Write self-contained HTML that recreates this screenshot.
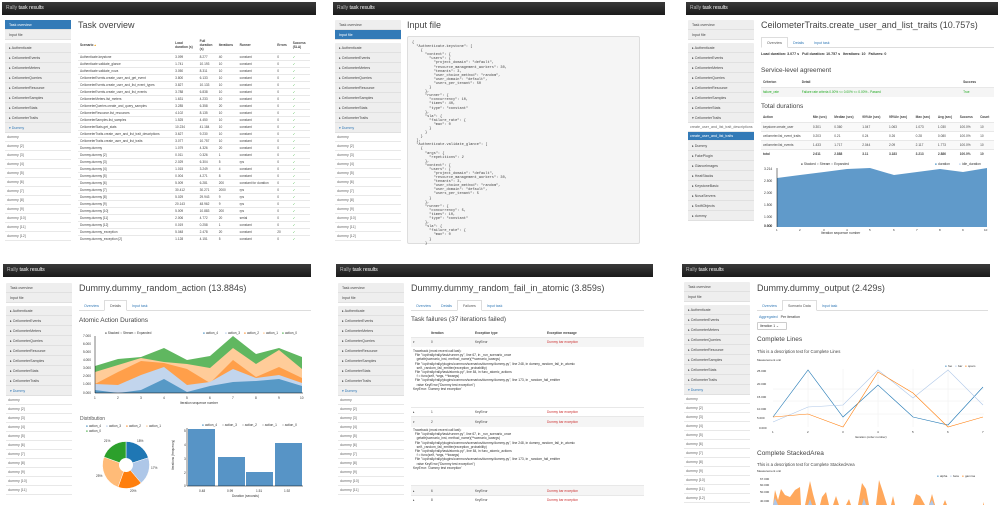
<!DOCTYPE html>
<html><head><meta charset="utf-8"><style>
*{margin:0;padding:0;box-sizing:border-box}
body{width:1000px;height:515px;background:#fff;position:relative;overflow:hidden;font-family:"Liberation Sans",sans-serif;color:#333}
.a{position:absolute}
.hd{position:absolute;height:13px;background:linear-gradient(#3a3a3a,#1a1a1a);color:#bbb;font-size:5px;line-height:13px;padding-left:4px}
.hd b{color:#fff;font-weight:normal}
.sb{position:absolute;width:66px;font-size:3.6px}
.sb .box{background:#eee;border-radius:1px}
.sb .box div{height:10px;line-height:10px;padding-left:4px;border-bottom:1px solid #e0e0e0;color:#444}
.sb .box div.on{background:#337ab7;color:#fff}
.sb .w div{height:9px;line-height:9px;padding-left:2px;border-bottom:1px solid #e8e8e8;color:#666;background:#fff}
.sb .w div.on{background:#337ab7;color:#fff}
.t1{position:absolute;font-size:9px;color:#444;white-space:nowrap}
.t2{position:absolute;font-size:6.5px;color:#444;white-space:nowrap}
.tabs{position:absolute;height:11px;border-bottom:1px solid #ddd;font-size:3.6px;color:#337ab7}
.tabs span{display:inline-block;height:11px;line-height:11px;padding:0 5px}
.tabs span.on{border:1px solid #ddd;border-bottom:1px solid #fff;color:#555;background:#fff}
table{border-collapse:collapse;font-size:3.2px;position:absolute}
td{border-top:1px solid #e8e8e8;height:7px;padding:0 2px;color:#444;white-space:nowrap}
.g{color:#2a2}
pre{position:absolute;font-family:"Liberation Mono",monospace;font-size:3.6px;line-height:4.1px;color:#444;background:#f5f5f5;border:1px solid #ddd;border-radius:2px;padding:4px}
.tb{font-size:3.3px;line-height:4.2px;color:#333;position:absolute;white-space:pre}
.red{color:#c33}
</style></head><body>

<!-- ============ PANEL 1 ============ -->
<div class="hd" style="left:2px;top:2px;width:314px">Rally <b>task results</b></div>
<div class="sb" style="left:5px;top:20px">
 <div class="box"><div class="on">Task overview</div><div>Input file</div></div>
 <div class="box" style="margin-top:3px"><div>▸ Authenticate</div><div>▸ CeilometerEvents</div><div>▸ CeilometerMeters</div><div>▸ CeilometerQueries</div><div>▸ CeilometerResource</div><div>▸ CeilometerSamples</div><div>▸ CeilometerStats</div><div>▸ CeilometerTraits</div><div style="color:#337ab7">▾ Dummy</div></div>
 <div class="w"><div>dummy</div><div>dummy [2]</div><div>dummy [3]</div><div>dummy [4]</div><div>dummy [5]</div><div>dummy [6]</div><div>dummy [7]</div><div>dummy [8]</div><div>dummy [9]</div><div>dummy [10]</div><div>dummy [11]</div><div>dummy [12]</div></div>
</div>
<div class="t1" style="left:78px;top:20px">Task overview</div>
<table style="left:78px;top:38px;width:232px">
<tr style="font-weight:bold"><td style="border:0;height:15px">Scenario <span style="color:#e90">▴</span></td><td style="border:0">Load<br>duration (s)</td><td style="border:0">Full<br>duration<br>(s)</td><td style="border:0">Iterations</td><td style="border:0">Runner</td><td style="border:0">Errors</td><td style="border:0">Success<br>(SLA)</td></tr>
<tr><td>Authenticate.keystone</td><td>3.099</td><td>8.277</td><td>40</td><td>constant</td><td>0</td><td class="g">✓</td></tr>
<tr><td>Authenticate.validate_glance</td><td>1.741</td><td>10.193</td><td>10</td><td>constant</td><td>0</td><td class="g">✓</td></tr>
<tr><td>Authenticate.validate_nova</td><td>3.050</td><td>8.311</td><td>10</td><td>constant</td><td>0</td><td class="g">✓</td></tr>
<tr><td>CeilometerEvents.create_user_and_get_event</td><td>3.800</td><td>6.133</td><td>10</td><td>constant</td><td>0</td><td class="g">✓</td></tr>
<tr><td>CeilometerEvents.create_user_and_list_event_types</td><td>3.827</td><td>10.133</td><td>10</td><td>constant</td><td>0</td><td class="g">✓</td></tr>
<tr><td>CeilometerEvents.create_user_and_list_events</td><td>3.788</td><td>6.838</td><td>10</td><td>constant</td><td>0</td><td class="g">✓</td></tr>
<tr><td>CeilometerMeters.list_meters</td><td>1.631</td><td>4.233</td><td>10</td><td>constant</td><td>0</td><td class="g">✓</td></tr>
<tr><td>CeilometerQueries.create_and_query_samples</td><td>3.285</td><td>6.358</td><td>20</td><td>constant</td><td>0</td><td class="g">✓</td></tr>
<tr><td>CeilometerResource.list_resources</td><td>4.102</td><td>8.135</td><td>10</td><td>constant</td><td>0</td><td class="g">✓</td></tr>
<tr><td>CeilometerSamples.list_samples</td><td>1.525</td><td>4.450</td><td>10</td><td>constant</td><td>0</td><td class="g">✓</td></tr>
<tr><td>CeilometerStats.get_stats</td><td>10.234</td><td>41.184</td><td>10</td><td>constant</td><td>0</td><td class="g">✓</td></tr>
<tr><td>CeilometerTraits.create_user_and_list_trait_descriptions</td><td>3.627</td><td>9.230</td><td>10</td><td>constant</td><td>0</td><td class="g">✓</td></tr>
<tr><td>CeilometerTraits.create_user_and_list_traits</td><td>3.077</td><td>10.757</td><td>10</td><td>constant</td><td>0</td><td class="g">✓</td></tr>
<tr><td>Dummy.dummy</td><td>1.079</td><td>4.326</td><td>20</td><td>constant</td><td>0</td><td class="g">✓</td></tr>
<tr><td>Dummy.dummy [2]</td><td>0.011</td><td>0.326</td><td>1</td><td>constant</td><td>0</td><td class="g">✓</td></tr>
<tr><td>Dummy.dummy [3]</td><td>2.029</td><td>6.304</td><td>5</td><td>rps</td><td>0</td><td class="g">✓</td></tr>
<tr><td>Dummy.dummy [4]</td><td>1.015</td><td>3.249</td><td>4</td><td>constant</td><td>0</td><td class="g">✓</td></tr>
<tr><td>Dummy.dummy [5]</td><td>0.004</td><td>4.271</td><td>8</td><td>constant</td><td>0</td><td class="g">✓</td></tr>
<tr><td>Dummy.dummy [6]</td><td>5.009</td><td>6.281</td><td>200</td><td>constant for duration</td><td>0</td><td class="g">✓</td></tr>
<tr><td>Dummy.dummy [7]</td><td>30.412</td><td>30.271</td><td>2000</td><td>rps</td><td>0</td><td class="g">✓</td></tr>
<tr><td>Dummy.dummy [8]</td><td>5.029</td><td>29.943</td><td>9</td><td>rps</td><td>0</td><td class="g">✓</td></tr>
<tr><td>Dummy.dummy [9]</td><td>20.143</td><td>48.962</td><td>9</td><td>rps</td><td>0</td><td class="g">✓</td></tr>
<tr><td>Dummy.dummy [10]</td><td>5.009</td><td>10.883</td><td>200</td><td>rps</td><td>0</td><td class="g">✓</td></tr>
<tr><td>Dummy.dummy [11]</td><td>2.006</td><td>4.772</td><td>20</td><td>serial</td><td>0</td><td class="g">✓</td></tr>
<tr><td>Dummy.dummy [12]</td><td>0.019</td><td>0.258</td><td>1</td><td>constant</td><td>0</td><td class="g">✓</td></tr>
<tr><td>Dummy.dummy_exception</td><td>5.048</td><td>2.478</td><td>20</td><td>constant</td><td>20</td><td class="g">✓</td></tr>
<tr><td>Dummy.dummy_exception [2]</td><td>1.128</td><td>4.151</td><td>5</td><td>constant</td><td>0</td><td class="g">✓</td></tr>
</table>

<!-- ============ PANEL 2 ============ -->
<div class="hd" style="left:333px;top:2px;width:332px">Rally <b>task results</b></div>
<div class="sb" style="left:335px;top:20px">
 <div class="box"><div>Task overview</div><div class="on">Input file</div></div>
 <div class="box" style="margin-top:3px"><div>▸ Authenticate</div><div>▸ CeilometerEvents</div><div>▸ CeilometerMeters</div><div>▸ CeilometerQueries</div><div>▸ CeilometerResource</div><div>▸ CeilometerSamples</div><div>▸ CeilometerStats</div><div>▸ CeilometerTraits</div><div style="color:#337ab7">▾ Dummy</div></div>
 <div class="w"><div>dummy</div><div>dummy [2]</div><div>dummy [3]</div><div>dummy [4]</div><div>dummy [5]</div><div>dummy [6]</div><div>dummy [7]</div><div>dummy [8]</div><div>dummy [9]</div><div>dummy [10]</div><div>dummy [11]</div><div>dummy [12]</div></div>
</div>
<div class="t1" style="left:407px;top:20px">Input file</div>
<pre style="left:407px;top:36px;width:233px;height:208px">{
  "Authenticate.keystone": [
    {
      "context": {
        "users": {
          "project_domain": "default",
          "resource_management_workers": 30,
          "tenants": 3,
          "user_choice_method": "random",
          "user_domain": "default",
          "users_per_tenant": 50
        }
      },
      "runner": {
        "concurrency": 10,
        "times": 40,
        "type": "constant"
      },
      "sla": {
        "failure_rate": {
          "max": 0
        }
      }
    }
  ],
  "Authenticate.validate_glance": [
    {
      "args": {
        "repetitions": 2
      },
      "context": {
        "users": {
          "project_domain": "default",
          "resource_management_workers": 30,
          "tenants": 3,
          "user_choice_method": "random",
          "user_domain": "default",
          "users_per_tenant": 5
        }
      },
      "runner": {
        "concurrency": 5,
        "times": 10,
        "type": "constant"
      },
      "sla": {
        "failure_rate": {
          "max": 0
        }
      }
</pre>

<!-- ============ PANEL 3 ============ -->
<div class="hd" style="left:686px;top:2px;width:312px">Rally <b>task results</b></div>
<div class="sb" style="left:688px;top:20px">
 <div class="box"><div>Task overview</div><div>Input file</div></div>
 <div class="box" style="margin-top:3px"><div>▸ Authenticate</div><div>▸ CeilometerEvents</div><div>▸ CeilometerMeters</div><div>▸ CeilometerQueries</div><div>▸ CeilometerResource</div><div>▸ CeilometerSamples</div><div>▸ CeilometerStats</div><div>▾ CeilometerTraits</div></div>
 <div class="w"><div>create_user_and_list_trait_descriptions</div><div class="on">create_user_and_list_traits</div></div>
 <div class="box"><div>▸ Dummy</div><div>▸ FakePlugin</div><div>▸ GlanceImages</div><div>▸ HeatStacks</div><div>▸ KeystoneBasic</div><div>▸ NovaServers</div><div>▸ SwiftObjects</div><div>▸ dummy</div></div>
</div>
<div class="t1" style="left:761px;top:20px">CeilometerTraits.create_user_and_list_traits (10.757s)</div>
<div class="tabs" style="left:761px;top:37px;width:233px"><span class="on">Overview</span><span>Details</span><span>Input task</span></div>
<div class="a" style="left:761px;top:52px;font-size:3.6px;font-weight:bold;color:#333">Load duration: 3.077 s &nbsp; Full duration: 10.757 s &nbsp; Iterations: 10 &nbsp; Failures: 0</div>
<div class="t2" style="left:761px;top:67px">Service-level agreement</div>
<table style="left:761px;top:78px;width:233px">
<tr style="font-weight:bold"><td style="border:0;height:9px">Criterion</td><td style="border:0">Detail</td><td style="border:0">Success</td></tr>
<tr style="background:#f5f5f5"><td class="g" style="height:10px">failure_rate</td><td class="g">Failure rate criteria 0.00% &lt;= 0.00% &lt;= 0.00% - Passed</td><td class="g">True</td></tr>
</table>
<div class="t2" style="left:761px;top:103px">Total durations</div>
<table style="left:761px;top:113px;width:233px">
<tr style="font-weight:bold"><td style="border:0;height:9px">Action</td><td style="border:0">Min (sec)</td><td style="border:0">Median (sec)</td><td style="border:0">90%ile (sec)</td><td style="border:0">95%ile (sec)</td><td style="border:0">Max (sec)</td><td style="border:0">Avg (sec)</td><td style="border:0">Success</td><td style="border:0">Count</td></tr>
<tr style="background:#f9f9f9"><td style="height:9px">keystone.create_user</td><td>0.301</td><td>0.360</td><td>1.047</td><td>1.063</td><td>1.073</td><td>1.030</td><td>100.0%</td><td>10</td></tr>
<tr><td style="height:9px">ceilometer.list_event_traits</td><td>0.203</td><td>0.21</td><td>0.24</td><td>0.26</td><td>0.28</td><td>0.080</td><td>100.0%</td><td>10</td></tr>
<tr style="background:#f9f9f9"><td style="height:9px">ceilometer.list_events</td><td>1.433</td><td>1.717</td><td>2.044</td><td>2.09</td><td>2.117</td><td>1.773</td><td>100.0%</td><td>10</td></tr>
<tr style="font-weight:bold"><td style="height:9px">total</td><td>2.611</td><td>2.888</td><td>3.11</td><td>3.183</td><td>3.213</td><td>2.886</td><td>100.0%</td><td>10</td></tr>
</table>
<svg class="a" style="left:761px;top:160px" width="235" height="78">
 <g font-size="3.3" fill="#333" font-family="Liberation Sans"><text x="40" y="5">● Stacked ○ Stream ○ Expanded</text><text x="174" y="5" fill="#1f77b4">●</text><text x="177" y="5">duration</text><text x="198" y="5" fill="#aec7e8">●</text><text x="201" y="5">idle_duration</text>
 <text x="3" y="10">3.214</text><text x="3" y="22">2.500</text><text x="3" y="34">2.000</text><text x="3" y="46">1.500</text><text x="3" y="58">1.000</text><text x="3" y="67">0.500</text><text x="3" y="67">0.000</text>
 <text x="60" y="74">Iteration sequence number</text></g>
 <path d="M16,18 L39,15 L63,12 L86,9 L109,8 L133,15 L156,12 L179,9 L202,12 L226,8 L226,67 L16,67Z" fill="#4f8fc4" opacity="0.9"/>
 <line x1="16" y1="8" x2="16" y2="67" stroke="#000" stroke-width="0.5"/>
 <g font-size="3" fill="#333"><text x="15" y="71">1</text><text x="38" y="71">2</text><text x="62" y="71">3</text><text x="85" y="71">4</text><text x="108" y="71">5</text><text x="132" y="71">6</text><text x="155" y="71">7</text><text x="178" y="71">8</text><text x="201" y="71">9</text><text x="223" y="71">10</text></g>
</svg>

<!-- ============ PANEL 4 ============ -->
<div class="hd" style="left:3px;top:264px;width:308px">Rally <b>task results</b></div>
<div class="sb" style="left:6px;top:283px">
 <div class="box"><div>Task overview</div><div>Input file</div></div>
 <div class="box" style="margin-top:3px"><div>▸ Authenticate</div><div>▸ CeilometerEvents</div><div>▸ CeilometerMeters</div><div>▸ CeilometerQueries</div><div>▸ CeilometerResource</div><div>▸ CeilometerSamples</div><div>▸ CeilometerStats</div><div>▸ CeilometerTraits</div><div style="color:#337ab7">▾ Dummy</div></div>
 <div class="w"><div>dummy</div><div>dummy [2]</div><div>dummy [3]</div><div>dummy [4]</div><div>dummy [5]</div><div>dummy [6]</div><div>dummy [7]</div><div>dummy [8]</div><div>dummy [9]</div><div>dummy [10]</div><div>dummy [11]</div></div>
</div>
<div class="t1" style="left:79px;top:283px">Dummy.dummy_random_action (13.884s)</div>
<div class="tabs" style="left:79px;top:300px;width:232px"><span>Overview</span><span class="on">Details</span><span>Input task</span></div>
<div class="t2" style="left:79px;top:317px">Atomic Action Durations</div>
<svg class="a" style="left:0;top:0" width="320" height="515">
 <g font-size="3.2" fill="#333" font-family="Liberation Sans">
 <text x="105" y="334">● Stacked ○ Stream ○ Expanded</text>
 <text x="203" y="334" fill="#1f77b4">●</text><text x="206" y="334">action_4</text>
 <text x="225" y="334" fill="#aec7e8">●</text><text x="228" y="334">action_3</text>
 <text x="244" y="334" fill="#ff7f0e">●</text><text x="247" y="334">action_2</text>
 <text x="263" y="334" fill="#ffbb78">●</text><text x="266" y="334">action_1</text>
 <text x="282" y="334" fill="#2ca02c">●</text><text x="285" y="334">action_0</text>
 <text x="83" y="337">7.000</text><text x="83" y="345">6.000</text><text x="83" y="353">5.000</text><text x="83" y="361">4.000</text><text x="83" y="369">3.000</text><text x="83" y="377">2.000</text><text x="83" y="385">1.000</text><text x="83" y="394">0.000</text>
 <text x="94" y="399">1</text><text x="117" y="399">2</text><text x="140" y="399">3</text><text x="163" y="399">4</text><text x="186" y="399">5</text><text x="209" y="399">6</text><text x="232" y="399">7</text><text x="255" y="399">8</text><text x="278" y="399">9</text><text x="300" y="399">10</text>
 <text x="180" y="404">Iteration sequence number</text>
 </g>
 <g opacity="0.75">
 <path d="M95,366 118,359 141,357 164,348 187,360 210,356 233,336 256,354 279,348 302,357 302,393 95,393Z" fill="#2ca02c"/>
 <path d="M95,372 118,365 141,358 164,362 187,364 210,368 233,348 256,364 279,350 302,369 302,393 95,393Z" fill="#ffbb78"/>
 <path d="M95,384 118,372 141,361 164,363 187,369 210,383 233,360 256,377 279,367 302,378 302,393 95,393Z" fill="#ff7f0e"/>
 <path d="M95,384 118,385 141,375 164,367 187,385 210,382 233,369 256,378 279,375 302,383 302,393 95,393Z" fill="#aec7e8"/>
 <path d="M95,390 118,393 141,390 164,379 187,392 210,386 233,382 256,381 279,379 302,386 302,393 95,393Z" fill="#1f77b4"/>
 </g>
 <line x1="95" y1="336" x2="95" y2="393" stroke="#000" stroke-width="0.5"/>
 <line x1="95" y1="393" x2="303" y2="393" stroke="#000" stroke-width="0.5"/>
 <text x="80" y="420" font-size="5" fill="#555" font-family="Liberation Sans">Distribution</text>
 <g font-size="3.2" fill="#333" font-family="Liberation Sans">
 <text x="86" y="427" fill="#1f77b4">●</text><text x="89" y="427">action_4</text>
 <text x="106" y="427" fill="#aec7e8">●</text><text x="109" y="427">action_3</text>
 <text x="126" y="427" fill="#ff7f0e">●</text><text x="129" y="427">action_2</text>
 <text x="146" y="427" fill="#ffbb78">●</text><text x="149" y="427">action_1</text>
 <text x="86" y="432" fill="#2ca02c">●</text><text x="89" y="432">action_0</text>
 <text x="137" y="442">18%</text><text x="151" y="469">17%</text><text x="130" y="492">20%</text><text x="96" y="477">25%</text><text x="104" y="442">21%</text>
 </g>
 <g transform="translate(126,465)" stroke="#fff" stroke-width="0.5">
 <path d="M0,-23.5 A23.5,23.5 0 0 1 22.35,-7.26 L0,0Z" fill="#1f77b4"/>
 <path d="M22.35,-7.26 A23.5,23.5 0 0 1 15.1,18 L0,0Z" fill="#aec7e8"/>
 <path d="M15.1,18 A23.5,23.5 0 0 1 -8,22.1 L0,0Z" fill="#ff7f0e"/>
 <path d="M-8,22.1 A23.5,23.5 0 0 1 -22.1,-8 L0,0Z" fill="#ffbb78"/>
 <path d="M-22.1,-8 A23.5,23.5 0 0 1 0,-23.5 L0,0Z" fill="#2ca02c"/>
 <circle r="7" fill="#fff" stroke="none"/>
 </g>
 <g font-size="3.2" fill="#333" font-family="Liberation Sans">
 <text x="202" y="426" fill="#1f77b4">●</text><text x="205" y="426">action_4</text>
 <text x="222" y="426">○ action_3</text><text x="242" y="426">○ action_2</text><text x="262" y="426">○ action_1</text><text x="282" y="426">○ action_0</text>
 <text x="184" y="432">5</text><text x="184" y="446">4</text><text x="184" y="460">3</text><text x="184" y="474">2</text><text x="184" y="487">0</text>
 <text x="199" y="492">0.48</text><text x="227" y="492">0.99</text><text x="256" y="492">1.51</text><text x="284" y="492">1.92</text>
 <text x="232" y="497">Duration (seconds)</text>
 <text transform="translate(174,470) rotate(-90)">Iterations (frequency)</text>
 </g>
 <g fill="#4f8fc4" opacity="0.95"><rect x="188" y="429" width="27" height="57"/><rect x="218" y="457" width="27" height="29"/><rect x="246" y="472" width="27" height="14"/><rect x="275" y="443" width="27" height="43"/></g>
 <line x1="187" y1="428" x2="187" y2="486" stroke="#000" stroke-width="0.5"/>
 <line x1="187" y1="486" x2="303" y2="486" stroke="#000" stroke-width="0.5"/>
</svg>

<!-- ============ PANEL 5 ============ -->
<div class="hd" style="left:336px;top:264px;width:317px">Rally <b>task results</b></div>
<div class="sb" style="left:338px;top:283px">
 <div class="box"><div>Task overview</div><div>Input file</div></div>
 <div class="box" style="margin-top:3px"><div>▸ Authenticate</div><div>▸ CeilometerEvents</div><div>▸ CeilometerMeters</div><div>▸ CeilometerQueries</div><div>▸ CeilometerResource</div><div>▸ CeilometerSamples</div><div>▸ CeilometerStats</div><div>▸ CeilometerTraits</div><div style="color:#337ab7">▾ Dummy</div></div>
 <div class="w"><div>dummy</div><div>dummy [2]</div><div>dummy [3]</div><div>dummy [4]</div><div>dummy [5]</div><div>dummy [6]</div><div>dummy [7]</div><div>dummy [8]</div><div>dummy [9]</div><div>dummy [10]</div><div>dummy [11]</div></div>
</div>
<div class="t1" style="left:411px;top:283px">Dummy.dummy_random_fail_in_atomic (3.859s)</div>
<div class="tabs" style="left:411px;top:300px;width:233px"><span>Overview</span><span>Details</span><span class="on">Failures</span><span>Input task</span></div>
<div class="t2" style="left:411px;top:316px">Task failures (37 iterations failed)</div>
<table style="left:411px;top:329px;width:233px">
<tr style="font-weight:bold"><td style="border:0;height:8px;width:18px"></td><td style="border:0;width:44px">Iteration</td><td style="border:0;width:72px">Exception type</td><td style="border:0">Exception message</td></tr>
<tr style="background:#f5f5f5"><td style="height:10px">▾</td><td>0</td><td>KeyError</td><td class="red">Dummy bar exception</td></tr>
</table>
<div class="tb" style="left:413px;top:349px">Traceback (most recent call last):
  File "/opt/rally/rally/task/runner.py", line 67, in _run_scenario_once
    getattr(scenario_inst, method_name)(**scenario_kwargs)
  File "/opt/rally/rally/plugins/common/scenarios/dummy/dummy.py", line 248, in dummy_random_fail_in_atomic
    self._random_fail_emitter(exception_probability)
  File "/opt/rally/rally/task/atomic.py", line 84, in func_atomic_actions
    f = func(self, *args, **kwargs)
  File "/opt/rally/rally/plugins/common/scenarios/dummy/dummy.py", line 173, in _random_fail_emitter
    raise KeyError("Dummy test exception")
KeyError: 'Dummy test exception'</div>
<table style="left:411px;top:407px;width:233px">
<tr><td style="height:9px;width:18px">▸</td><td style="width:44px">1</td><td style="width:72px">KeyError</td><td class="red">Dummy bar exception</td></tr>
<tr style="background:#f5f5f5"><td style="height:10px">▾</td><td>2</td><td>KeyError</td><td class="red">Dummy bar exception</td></tr>
</table>
<div class="tb" style="left:413px;top:428px">Traceback (most recent call last):
  File "/opt/rally/rally/task/runner.py", line 67, in _run_scenario_once
    getattr(scenario_inst, method_name)(**scenario_kwargs)
  File "/opt/rally/rally/plugins/common/scenarios/dummy/dummy.py", line 248, in dummy_random_fail_in_atomic
    self._random_fail_emitter(exception_probability)
  File "/opt/rally/rally/task/atomic.py", line 84, in func_atomic_actions
    f = func(self, *args, **kwargs)
  File "/opt/rally/rally/plugins/common/scenarios/dummy/dummy.py", line 173, in _random_fail_emitter
    raise KeyError("Dummy test exception")
KeyError: 'Dummy test exception'</div>
<table style="left:411px;top:485px;width:233px">
<tr style="background:#f5f5f5"><td style="height:10px;width:18px">▸</td><td style="width:44px">6</td><td style="width:72px">KeyError</td><td class="red">Dummy bar exception</td></tr>
<tr><td style="height:9px">▸</td><td>8</td><td>KeyError</td><td class="red">Dummy bar exception</td></tr>
</table>

<!-- ============ PANEL 6 ============ -->
<div class="hd" style="left:682px;top:264px;width:308px">Rally <b>task results</b></div>
<div class="sb" style="left:684px;top:282px">
 <div class="box"><div>Task overview</div><div>Input file</div></div>
 <div class="box" style="margin-top:3px"><div>▸ Authenticate</div><div>▸ CeilometerEvents</div><div>▸ CeilometerMeters</div><div>▸ CeilometerQueries</div><div>▸ CeilometerResource</div><div>▸ CeilometerSamples</div><div>▸ CeilometerStats</div><div>▸ CeilometerTraits</div><div style="color:#337ab7">▾ Dummy</div></div>
 <div class="w"><div>dummy</div><div>dummy [2]</div><div>dummy [3]</div><div>dummy [4]</div><div>dummy [5]</div><div>dummy [6]</div><div>dummy [7]</div><div>dummy [8]</div><div>dummy [9]</div><div>dummy [10]</div><div>dummy [11]</div><div>dummy [12]</div></div>
</div>
<div class="t1" style="left:757px;top:283px">Dummy.dummy_output (2.429s)</div>
<div class="tabs" style="left:757px;top:300px;width:231px"><span>Overview</span><span class="on">Scenario Data</span><span>Input task</span></div>
<div class="a" style="left:759px;top:315px;font-size:3.6px"><span style="color:#337ab7">Aggregated</span> &nbsp; Per iteration</div>
<div class="a" style="left:757px;top:322px;width:30px;height:8px;border:1px solid #ccc;border-radius:1px;font-size:3.4px;line-height:6px;padding-left:2px">Iteration 1 ⌄</div>
<div class="t2" style="left:757px;top:336px">Complete Lines</div>
<div class="a" style="left:757px;top:349px;font-size:4.3px;color:#444">This is a description text for Complete Lines</div>
<svg class="a" style="left:0;top:0" width="1000" height="515">
 <g font-size="3" fill="#333" font-family="Liberation Sans">
 <text x="757" y="361">Measurement unit</text>
 <text x="945" y="367" fill="#1f77b4">●</text><text x="948" y="367">foo</text><text x="955" y="367" fill="#aec7e8">●</text><text x="958" y="367">bar</text><text x="965" y="367" fill="#ff7f0e">●</text><text x="968" y="367">spam</text>
 <text x="757" y="372">25.000</text><text x="757" y="385">20.000</text><text x="757" y="398">15.000</text><text x="757" y="410">10.000</text><text x="757" y="419">5.000</text><text x="759" y="429">0.000</text>
 <text x="772" y="433">1</text><text x="807" y="433">2</text><text x="842" y="433">3</text><text x="877" y="433">4</text><text x="912" y="433">5</text><text x="947" y="433">6</text><text x="982" y="433">7</text>
 <text x="855" y="438">Iteration (order number)</text>
 </g>
 <g stroke="#eee" stroke-width="0.5"><line x1="773" y1="389" x2="984" y2="389"/><line x1="773" y1="401" x2="984" y2="401"/><line x1="773" y1="414" x2="984" y2="414"/><line x1="808" y1="369" x2="808" y2="427"/><line x1="843" y1="369" x2="843" y2="427"/><line x1="878" y1="369" x2="878" y2="427"/><line x1="913" y1="369" x2="913" y2="427"/><line x1="948" y1="369" x2="948" y2="427"/></g>
 <polyline points="773,417 808,370 843,417 878,385 913,417 948,425 983,387" fill="none" stroke="#1f77b4" stroke-width="0.6"/>
 <polyline points="773,422 808,407 843,405 878,370 913,398 948,370 983,405" fill="none" stroke="#aec7e8" stroke-width="0.6"/>
 <polyline points="773,417 808,414 843,427 878,372 913,393 948,427 983,417" fill="none" stroke="#ff7f0e" stroke-width="0.6"/>
 <text x="757" y="455" font-size="6.5" fill="#444" font-family="Liberation Sans">Complete StackedArea</text>
 <text x="757" y="466" font-size="4.3" fill="#444" font-family="Liberation Sans">This is a description text for Complete StackedArea</text>
 <g font-size="3" fill="#333" font-family="Liberation Sans">
 <text x="757" y="472">Measurement unit</text>
 <text x="937" y="477" fill="#1f77b4">●</text><text x="940" y="477">alpha</text><text x="950" y="477" fill="#aec7e8">●</text><text x="953" y="477">beta</text><text x="962" y="477" fill="#ff7f0e">●</text><text x="965" y="477">gamma</text>
 <text x="760" y="480">67.000</text><text x="760" y="486">60.000</text><text x="760" y="493">50.000</text><text x="760" y="502">40.000</text>
 </g>
 <path d="M773,505 L775,490 778,500 781,489 785,495 790,497 795,490 800,487 801,505 L805,505 810,481 813,494 816,505 L820,505 822,497 826,492 829,505 L833,505 836,496 839,505 L846,505 849,499 851,505 L858,505 862,483 866,489 869,505 L876,505 879,480 883,492 887,505 L891,505 893,496 895,505 L913,505 916,494 920,496 925,505 L929,505 932,494 935,505 L943,505 945,500 947,505 L983,505 984,502 984,505Z" fill="#ff9f4a" opacity="0.9"/>
 <path d="M773,505 L775,498 778,505Z M808,505 L810,499 812,505Z M862,505 L864,498 866,505Z M929,505 L932,500 934,505Z" fill="#aec7e8"/>
</svg>

</body></html>
